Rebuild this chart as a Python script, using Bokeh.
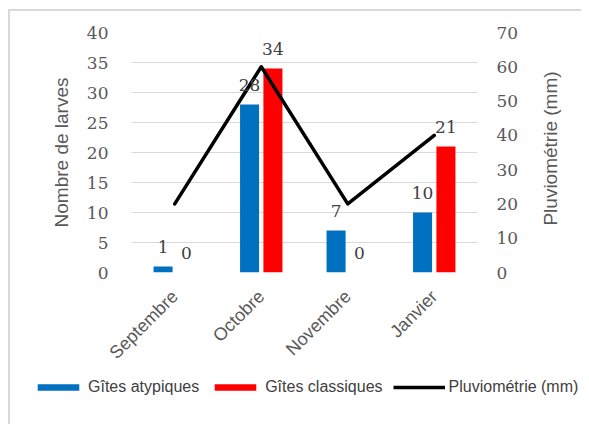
from math import pi
from bokeh.plotting import figure
from bokeh.layouts import column, row
from bokeh.models import (ColumnDataSource, FactorRange, Range1d, LinearAxis,
                          FixedTicker, Legend, LegendItem, Label)
from bokeh.transform import dodge
from bokeh.core.properties import value
from bokeh.embed import file_html
from bokeh.resources import INLINE

months = ["Septembre", "Octobre", "Novembre", "Janvier"]
gites_atypiques = [1, 28, 7, 10]
gites_classiques = [0, 34, 0, 21]
pluviometrie = [20, 60, 20, 40]
left_ticks = [0, 5, 10, 15, 20, 25, 30, 35, 40]
right_ticks = [0, 10, 20, 30, 40, 50, 60, 70]
series_names = ["Gîtes atypiques", "Gîtes classiques", "Pluviométrie (mm)"]
colors = ["#0070c0", "#ff0000", "black"]

src = ColumnDataSource(dict(
    m=months, a=gites_atypiques, c=gites_classiques, pl=pluviometrie,
    al=[str(v) for v in gites_atypiques], cl=[str(v) for v in gites_classiques],
))

W = 581
TW = 54          # strip on the right holding the right-axis title
H = 376
p = figure(width=W - TW, height=H, x_range=FactorRange(*months, range_padding=0),
           y_range=Range1d(left_ticks[0], left_ticks[-1]),
           output_backend="svg", toolbar_location=None,
           min_border_left=131, min_border_right=W - TW - 477, min_border_top=32,
           min_border_bottom=104)
p.extra_y_ranges = {"pl": Range1d(right_ticks[0], right_ticks[-1])}
p.outline_line_color = None
p.border_fill_color = None

grey = "#595959"
num_font = "DejaVu Serif"

# x axis
p.xaxis.axis_line_color = None
p.xaxis.major_tick_line_color = None
p.xaxis.major_label_orientation = pi / 4
p.xaxis.major_label_text_font = "Liberation Sans"
p.xaxis.major_label_text_font_size = "18px"
p.xaxis.major_label_text_color = grey
p.xaxis.major_label_standoff = 15
p.xgrid.grid_line_color = None

# left axis
p.yaxis.ticker = FixedTicker(ticks=left_ticks)
p.yaxis.axis_line_color = None
p.yaxis.major_tick_line_color = None
p.yaxis.minor_tick_line_color = None
p.yaxis.major_label_text_font = num_font
p.yaxis.major_label_text_font_size = "17px"
p.yaxis.major_label_text_color = grey
p.yaxis.major_label_standoff = 17
p.yaxis.axis_label = "Nombre de larves"
p.yaxis.axis_label_text_font = "Liberation Sans"
p.yaxis.axis_label_text_font_size = "19px"
p.yaxis.axis_label_text_font_style = "normal"
p.yaxis.axis_label_text_color = grey
p.yaxis.axis_label_standoff = 12
p.ygrid.ticker = FixedTicker(ticks=left_ticks[1:])
p.ygrid.grid_line_color = "#d9d9d9"
p.ygrid.grid_line_width = 1

# right axis
ra = LinearAxis(y_range_name="pl", ticker=FixedTicker(ticks=right_ticks))
ra.axis_line_color = None
ra.major_tick_line_color = None
ra.minor_tick_line_color = None
ra.major_label_text_font = num_font
ra.major_label_text_font_size = "17px"
ra.major_label_text_color = grey
ra.major_label_standoff = 13
p.add_layout(ra, "right")

off = 0.135
bw = 0.22
p.vbar(x=dodge("m", -off, range=p.x_range), top="a", width=bw, source=src,
       fill_color=colors[0], line_color=None)
p.vbar(x=dodge("m", off, range=p.x_range), top="c", width=bw, source=src,
       fill_color=colors[1], line_color=None)
p.line(x="m", y="pl", source=src, y_range_name="pl", line_color=colors[2],
       line_width=3.5, line_join="round", line_cap="round")

for col, lab, o in (("a", "al", -off), ("c", "cl", off)):
    p.text(x=dodge("m", o, range=p.x_range), y=col, text=lab, source=src,
           text_align="center", text_baseline="middle", y_offset=-20,
           text_font=value(num_font), text_font_size="17px", text_color="#404040")


def strip(width, height):
    f = figure(width=width, height=height, x_range=Range1d(0, width), y_range=Range1d(0, height),
               output_backend="svg", toolbar_location=None,
               x_axis_location=None, y_axis_location=None, min_border=0)
    try:
        f.frame_align = False
    except Exception:
        pass
    f.outline_line_color = None
    f.border_fill_color = None
    f.background_fill_color = None
    f.grid.grid_line_color = None
    return f


# right-axis title strip (reads bottom to top, like the reference)
tf = strip(TW, H)
tf.add_layout(Label(x=23, y=H - 148, text="Pluviométrie (mm)", angle=pi / 2,
                    text_align="center", text_baseline="middle",
                    text_font="Liberation Sans", text_font_size="19px", text_color=grey))

# legend strip below the chart
lg = strip(W, 48)
dummy = ColumnDataSource(dict(x=[-50], y=[-50]))   # legend-only renderers, outside the view
d_a = lg.vbar(x="x", top="y", width=1, source=dummy, fill_color=colors[0], line_color=None)
d_c = lg.vbar(x="x", top="y", width=1, source=dummy, fill_color=colors[1], line_color=None)
d_l = lg.line(x="x", y="y", source=dummy, line_color=colors[2], line_width=3.5)
legend = Legend(items=[LegendItem(label=series_names[0], renderers=[d_a]),
                       LegendItem(label=series_names[1], renderers=[d_c]),
                       LegendItem(label=series_names[2], renderers=[d_l])],
                orientation="horizontal", location=(32, 28),
                glyph_width=52, glyph_height=8, label_standoff=4, spacing=10,
                padding=0, margin=0, border_line_color=None, background_fill_alpha=0,
                label_text_font="Liberation Sans", label_text_font_size="16px",
                label_text_color="#404040", label_height=16)
lg.add_layout(legend, "center")

layout = column(row(p, tf), lg, width=W)
layout.styles = {"background": "linear-gradient(#d9d9d9,#d9d9d9) 8px 9px / 2px 100% no-repeat, "
                               "linear-gradient(#d9d9d9,#d9d9d9) 8px 9px / 100% 2px no-repeat"}

open("out.html", "w").write(file_html(layout, INLINE))
